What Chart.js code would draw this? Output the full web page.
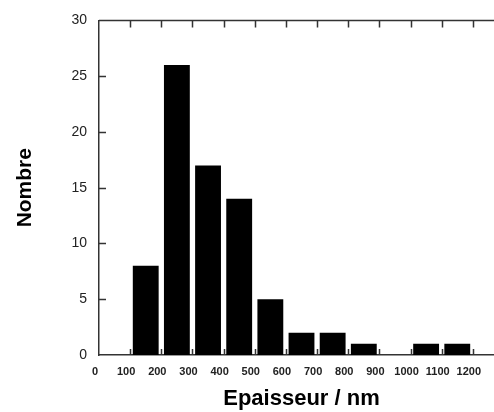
<!DOCTYPE html>
<html>
<head>
<meta charset="utf-8">
<script src="https://cdn.jsdelivr.net/npm/chart.js@4/dist/chart.umd.min.js"></script>
<style>
html, body { margin: 0; padding: 0; background: #fff; overflow: hidden; }
#wrap { position: absolute; left: 0; top: 0; width: 504px; height: 412px; }
</style>
</head>
<body>
<div id="wrap"><canvas id="histChart"></canvas></div>
<script>
// Histogram of thickness

const binCenters = [150, 250, 350, 450, 550, 650, 750, 850, 950, 1050, 1150];
const counts = [8, 26, 17, 14, 5, 2, 2, 1, 0, 1, 1];
const xTicks = [0, 100, 200, 300, 400, 500, 600, 700, 800, 900, 1000, 1100, 1200];
const yTicks = [0, 5, 10, 15, 20, 25, 30];

const frameColor = "#333";

// inward ticks and top frame line
const innerTicks = {
id: "innerTicks",
afterDraw(chart) {
const ctx = chart.ctx;
const a = chart.chartArea;
const x = chart.scales.x;
const y = chart.scales.y;
ctx.save();
ctx.strokeStyle = frameColor;
ctx.lineWidth = 1.5;
ctx.beginPath();
ctx.moveTo(a.left, a.top);
ctx.lineTo(a.right, a.top);
xTicks.slice(1).forEach(v => {
const px = Math.round(x.getPixelForValue(v)) + 0.5;
ctx.moveTo(px, a.top);
ctx.lineTo(px, a.top + 7);
ctx.moveTo(px, a.bottom);
ctx.lineTo(px, a.bottom - 6);
});
yTicks.slice(1, -1).forEach(v => {
const py = Math.round(y.getPixelForValue(v)) + 0.5;
ctx.moveTo(a.left, py);
ctx.lineTo(a.left + 7, py);
});
ctx.stroke();
ctx.restore();
}
};

new Chart(
document.getElementById("histChart"),
{
type: "bar",

data: {
datasets: [{
data: binCenters.map((c, i) => ({ x: c, y: counts[i] })),
backgroundColor: "#000",
borderColor: "#000",
borderWidth: 0,
barPercentage: 0.83,
categoryPercentage: 1
}]
},

options: {
responsive: true,
maintainAspectRatio: false,
animation: false,
layout: { padding: { top: 20, left: 0, right: 0, bottom: 0 } },
plugins: {
legend: { display: false },
tooltip: { enabled: false }
},
scales: {
x: {
type: "linear",
min: 0,
max: 1300,
offset: false,
afterBuildTicks: s => { s.ticks = xTicks.map(v => ({ value: v })); },
afterFit: s => { s.height = 57; },
grid: { display: false, drawTicks: false },
border: { display: true, color: frameColor, width: 1.5 },
ticks: {
padding: 10,
labelOffset: -4,
maxRotation: 0,
autoSkip: false,
color: "#222",
callback: v => String(v),
font: { family: "'Liberation Sans Narrow', 'Liberation Sans', Arial", size: 11, weight: "bold" }
},
title: {
display: true,
text: "Epaisseur / nm",
color: "#000",
padding: { top: 0, bottom: 0 },
font: { family: "'Liberation Sans', Arial", size: 22, weight: "bold" }
}
},
y: {
min: 0,
max: 30,
afterBuildTicks: s => { s.ticks = yTicks.map(v => ({ value: v })); },
afterFit: s => { s.width = 99; },
grid: { display: false, drawTicks: false },
border: { display: true, color: frameColor, width: 1.5 },
ticks: {
padding: 12,
color: "#222",
font: { family: "'Liberation Sans', Arial", size: 14 }
},
title: {
display: true,
text: "Nombre",
color: "#000",
padding: { top: 13, bottom: 0 },
font: { family: "'Liberation Sans', Arial", size: 21, weight: "bold" }
}
}
}
},
plugins: [innerTicks]
}
);
</script>
</body>
</html>
